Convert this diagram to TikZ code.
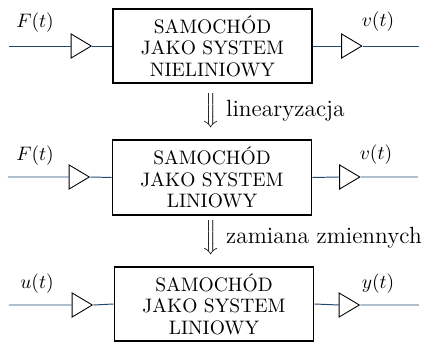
\documentclass[tikz,border=0pt]{standalone}
\usetikzlibrary{shapes.geometric}
\definecolor{wire}{RGB}{35,72,110}
\begin{document}
\begin{tikzpicture}[x=0.5125pt,y=-0.5125pt,
  sysbox/.style={draw=black,line width=1pt,minimum width=102pt,minimum height=38.4pt,align=center,inner sep=0pt,font=\fontsize{10}{11}\selectfont},
  tri/.style={draw=black,fill=white,line width=0.45pt,isosceles triangle,isosceles triangle stretches,shape border rotate=0,minimum width=12.3pt,minimum height=10.3pt,inner sep=0pt},
  wireline/.style={draw=wire,line width=0.5pt},
  sig/.style={inner sep=0pt},
  stepnote/.style={anchor=west,inner sep=0pt,font=\large}]
\useasboundingbox (0,0) rectangle (439,347);
% row 1
\node[sysbox] (b1) at (212.5,46) {SAMOCHÓD\\JAKO SYSTEM\\NIELINIOWY};
\coordinate (i1) at (9,46);
\coordinate (o1) at (419,46);
\node[tri] (ta1) at (78,46) {};
\node[tri] (tb1) at (348.5,46) {};
\draw[wireline] (i1) -- (ta1.west) (ta1.east) -- (b1.west);
\draw[wireline] (b1.east) -- (tb1.west) (tb1.east) -- (o1);
\node[sig] (l1) at (35,23) {$F(t)$};
\node[sig] (r1) at (378,22) {$v(t)$};
% step 1
\node[stepnote] (s1) at (203,111) {$\Big\Downarrow$ linearyzacja};
% row 2
\node[sysbox] (b2) at (212,177.5) {SAMOCHÓD\\JAKO SYSTEM\\LINIOWY};
\coordinate (i2) at (8,177);
\coordinate (o2) at (418,177);
\node[tri] (ta2) at (76,177) {};
\node[tri] (tb2) at (346.5,177) {};
\draw[wireline] (i2) -- (ta2.west) (ta2.east) -- (b2.west);
\draw[wireline] (b2.east) -- (tb2.west) (tb2.east) -- (o2);
\node[sig] (l2) at (35,156) {$F(t)$};
\node[sig] (r2) at (376,155) {$v(t)$};
% step 2
\node[stepnote] (s2) at (203,238) {$\Big\Downarrow$ zamiana zmiennych};
% row 3
\node[sysbox] (b3) at (214,304) {SAMOCHÓD\\JAKO SYSTEM\\LINIOWY};
\coordinate (i3) at (9,305);
\coordinate (o3) at (419,305);
\node[tri] (ta3) at (79,305) {};
\node[tri] (tb3) at (346,305) {};
\draw[wireline] (i3) -- (ta3.west) (ta3.east) -- (b3.west);
\draw[wireline] (b3.east) -- (tb3.west) (tb3.east) -- (o3);
\node[sig] (l3) at (37,284) {$u(t)$};
\node[sig] (r3) at (378,284) {$y(t)$};
\end{tikzpicture}
\end{document}
